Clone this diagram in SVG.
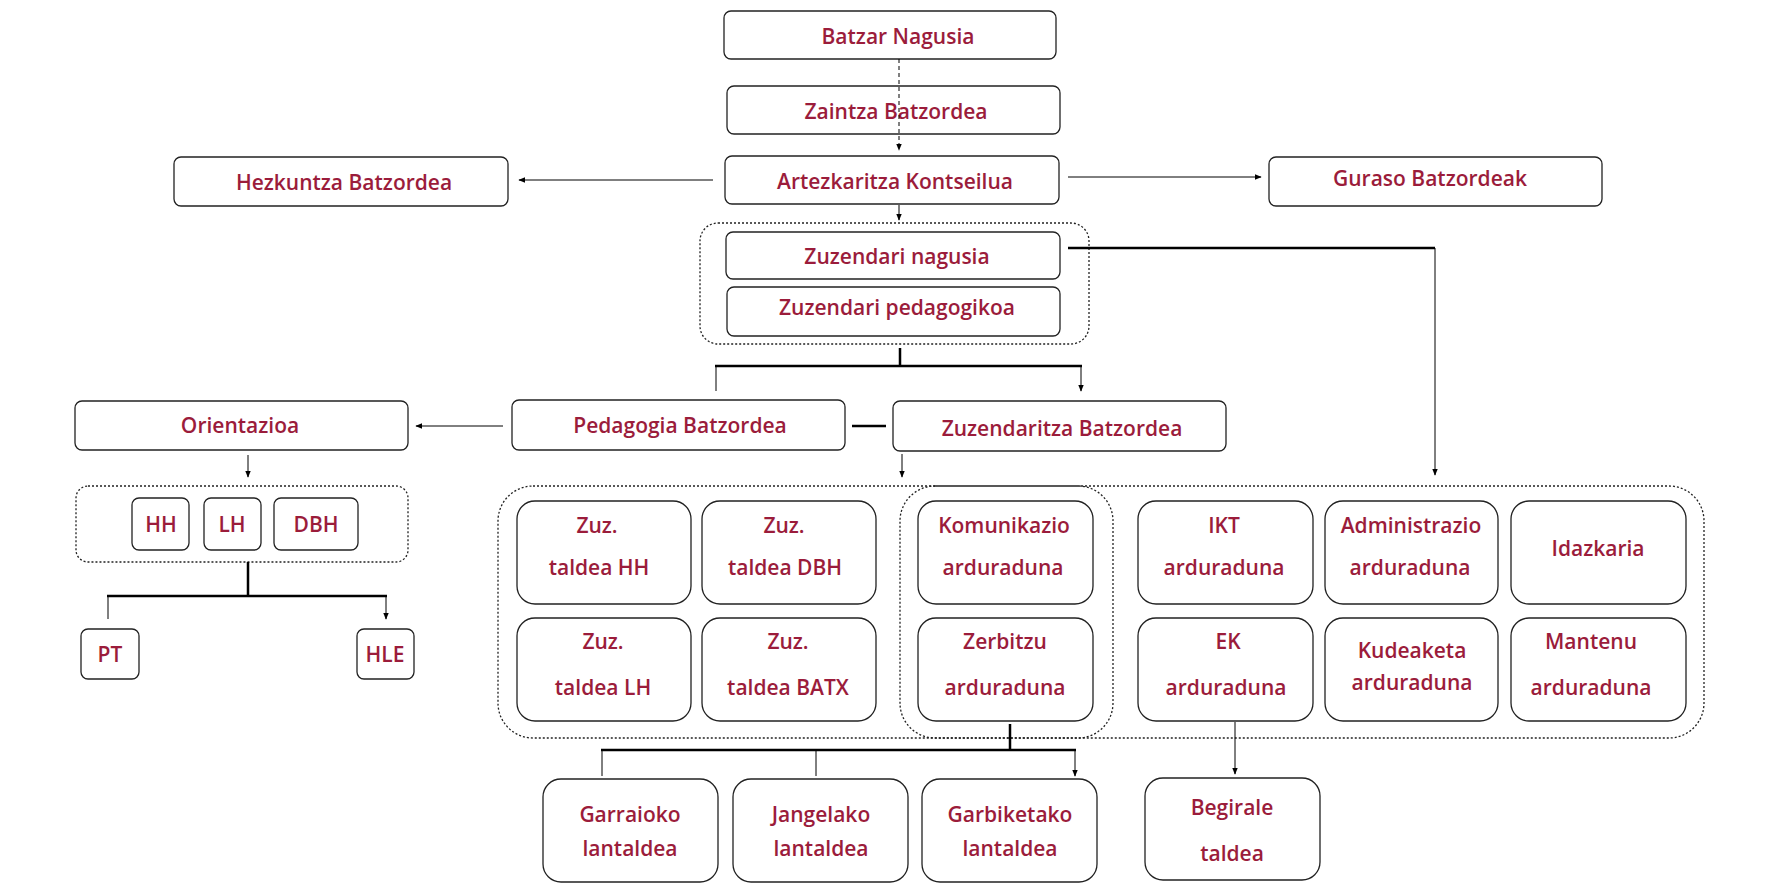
<svg xmlns="http://www.w3.org/2000/svg" width="1772" height="886" viewBox="0 0 1772 886">
<defs>
<marker id="a" viewBox="0 0 10 10" refX="9" refY="5" markerWidth="7" markerHeight="7" orient="auto"><path d="M0,1 L10,5 L0,9 z" fill="#000"/></marker>
<style>
.n rect{fill:#fff;stroke:#222;stroke-width:1.3}
.c{fill:none;stroke:#222;stroke-width:1.3;stroke-dasharray:2 2}
text{font-family:"Open Sans","Liberation Sans",sans-serif;font-weight:600;font-size:21px;fill:#9b1c3b;text-anchor:middle}
.l{fill:none;stroke:#000;stroke-width:1}
.t{fill:none;stroke:#000;stroke-width:2.5}
</style>
</defs>
<rect width="1772" height="886" fill="#fff"/>
<rect class="c" x="700" y="223" width="389" height="121" rx="18"/>
<rect class="c" x="76" y="486" width="332" height="76" rx="12"/>
<rect class="c" x="498" y="486" width="1206" height="252" rx="35"/>
<rect class="c" x="900" y="486" width="213" height="252" rx="35"/>
<g id="batzar" class="n"><rect x="724" y="11" width="332" height="48" rx="7"/><text x="898" y="44">Batzar Nagusia</text></g>
<g id="zaintza" class="n"><rect x="727" y="86" width="333" height="48" rx="7"/><text x="896" y="119">Zaintza Batzordea</text></g>
<g id="artez" class="n"><rect x="725" y="156" width="334" height="48" rx="7"/><text x="895" y="189">Artezkaritza Kontseilua</text></g>
<g id="hezk" class="n"><rect x="174" y="157" width="334" height="49" rx="7"/><text x="344" y="190">Hezkuntza Batzordea</text></g>
<g id="guraso" class="n"><rect x="1269" y="157" width="333" height="49" rx="7"/><text x="1430" y="186">Guraso Batzordeak</text></g>
<g id="zuzn" class="n"><rect x="726" y="232" width="334" height="47" rx="7"/><text x="897" y="264">Zuzendari nagusia</text></g>
<g id="zuzp" class="n"><rect x="727" y="287" width="333" height="49" rx="7"/><text x="897" y="315">Zuzendari pedagogikoa</text></g>
<g id="orient" class="n"><rect x="75" y="401" width="333" height="49" rx="7"/><text x="240" y="433">Orientazioa</text></g>
<g id="pedag" class="n"><rect x="512" y="400" width="333" height="50" rx="7"/><text x="680" y="433">Pedagogia Batzordea</text></g>
<g id="zuzb" class="n"><rect x="893" y="401" width="333" height="50" rx="7"/><text x="1062" y="436">Zuzendaritza Batzordea</text></g>
<g id="hh" class="n"><rect x="132" y="498" width="57" height="52" rx="7"/><text x="161" y="532">HH</text></g>
<g id="lh" class="n"><rect x="204" y="498" width="57" height="52" rx="7"/><text x="232" y="532">LH</text></g>
<g id="dbh" class="n"><rect x="274" y="498" width="84" height="52" rx="7"/><text x="316" y="532">DBH</text></g>
<g id="pt" class="n"><rect x="81" y="629" width="58" height="50" rx="7"/><text x="110" y="662">PT</text></g>
<g id="hle" class="n"><rect x="357" y="629" width="57" height="50" rx="7"/><text x="385" y="662">HLE</text></g>
<g id="zhh" class="n"><rect x="517" y="501" width="174" height="103" rx="18"/><text x="597" y="533">Zuz.</text><text x="599" y="575">taldea HH</text></g>
<g id="zdbh" class="n"><rect x="702" y="501" width="174" height="103" rx="18"/><text x="784" y="533">Zuz.</text><text x="785" y="575">taldea DBH</text></g>
<g id="kom" class="n"><rect x="918" y="501" width="175" height="103" rx="18"/><text x="1004" y="533">Komunikazio</text><text x="1003" y="575">arduraduna</text></g>
<g id="ikt" class="n"><rect x="1138" y="501" width="175" height="103" rx="18"/><text x="1224" y="533">IKT</text><text x="1224" y="575">arduraduna</text></g>
<g id="admin" class="n"><rect x="1325" y="501" width="173" height="103" rx="18"/><text x="1411" y="533">Administrazio</text><text x="1410" y="575">arduraduna</text></g>
<g id="idaz" class="n"><rect x="1511" y="501" width="175" height="103" rx="18"/><text x="1598" y="556">Idazkaria</text></g>
<g id="zlh" class="n"><rect x="517" y="618" width="174" height="103" rx="18"/><text x="603" y="649">Zuz.</text><text x="603" y="695">taldea LH</text></g>
<g id="zbatx" class="n"><rect x="702" y="618" width="174" height="103" rx="18"/><text x="788" y="649">Zuz.</text><text x="788" y="695">taldea BATX</text></g>
<g id="zerb" class="n"><rect x="918" y="618" width="175" height="103" rx="18"/><text x="1005" y="649">Zerbitzu</text><text x="1005" y="695">arduraduna</text></g>
<g id="ek" class="n"><rect x="1138" y="618" width="175" height="103" rx="18"/><text x="1228" y="649">EK</text><text x="1226" y="695">arduraduna</text></g>
<g id="kud" class="n"><rect x="1325" y="618" width="173" height="103" rx="18"/><text x="1412" y="658">Kudeaketa</text><text x="1412" y="690">arduraduna</text></g>
<g id="mant" class="n"><rect x="1511" y="618" width="175" height="103" rx="18"/><text x="1591" y="649">Mantenu</text><text x="1591" y="695">arduraduna</text></g>
<g id="garr" class="n"><rect x="543" y="779" width="175" height="103" rx="18"/><text x="630" y="822">Garraioko</text><text x="630" y="856">lantaldea</text></g>
<g id="jang" class="n"><rect x="733" y="779" width="175" height="103" rx="18"/><text x="821" y="822">Jangelako</text><text x="821" y="856">lantaldea</text></g>
<g id="garb" class="n"><rect x="922" y="779" width="175" height="103" rx="18"/><text x="1010" y="822">Garbiketako</text><text x="1010" y="856">lantaldea</text></g>
<g id="begi" class="n"><rect x="1145" y="778" width="175" height="102" rx="18"/><text x="1232" y="815">Begirale</text><text x="1232" y="861">taldea</text></g>
<g id="connectors">
<path class="l" d="M899,59 V150" stroke-dasharray="4 3" marker-end="url(#a)"/>
<path class="l" d="M713,180 H519" marker-end="url(#a)"/>
<path class="l" d="M1068,177 H1261" marker-end="url(#a)"/>
<path class="l" d="M899,205 V220" marker-end="url(#a)"/>
<path class="t" d="M1068,248 H1435"/>
<path class="l" d="M1435,248 V475" marker-end="url(#a)"/>
<path class="t" d="M900,348 V366 M715,366 H1082"/>
<path class="l" d="M716,366 V391 M1081,366 V391" marker-end="url(#a)"/>
<path class="t" d="M852,426 H886"/>
<path class="l" d="M503,426 H416" marker-end="url(#a)"/>
<path class="l" d="M248,455 V477" marker-end="url(#a)"/>
<path class="l" d="M902,454 V477" marker-end="url(#a)"/>
<path class="t" d="M248,562 V596 M107,596 H387"/>
<path class="l" d="M108,596 V619 M386,596 V619" marker-end="url(#a)"/>
<path class="t" d="M1010,724 V750 M601,750 H1076"/>
<path class="l" d="M602,750 V776 M816,750 V776 M1075,750 V776" marker-end="url(#a)"/>
<path class="l" d="M1235,722 V774" marker-end="url(#a)"/>
</g>
</svg>
